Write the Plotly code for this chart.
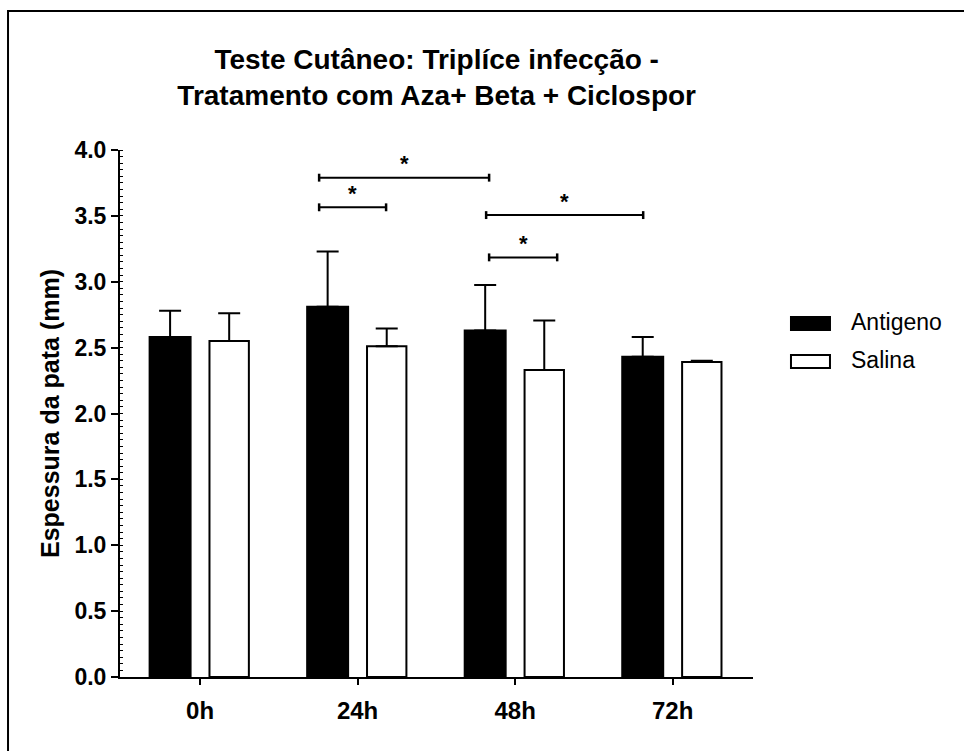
import plotly.graph_objects as go

categories = ["0h", "24h", "48h", "72h"]
antigeno_mean = [2.58, 2.81, 2.63, 2.43]
antigeno_err = [0.20, 0.42, 0.345, 0.15]
salina_mean = [2.55, 2.51, 2.33, 2.39]
salina_err = [0.21, 0.135, 0.375, 0.01]
series_names = ["Antigeno", "Salina"]
y_ticks = [0.0, 0.5, 1.0, 1.5, 2.0, 2.5, 3.0, 3.5, 4.0]

# significance brackets: (x start, x end, y level, label)
brackets = [
    (0.756, 1.835, 3.79, "*"),
    (0.756, 1.181, 3.565, "*"),
    (1.816, 2.813, 3.506, "*"),
    (1.835, 2.267, 3.185, "*"),
]

xpos = list(range(len(categories)))
FONT = "Liberation Sans, Arial, sans-serif"

fig = go.Figure()
fig.add_trace(go.Bar(
    x=xpos, y=antigeno_mean, name=series_names[0],
    offset=-0.32, width=0.26,
    marker=dict(color="black", line=dict(color="black", width=2)),
    error_y=dict(type="data", array=antigeno_err, arrayminus=[0]*4, symmetric=False,
                 color="black", thickness=2, width=11),
    showlegend=False,
))
fig.add_trace(go.Bar(
    x=xpos, y=salina_mean, name=series_names[1],
    offset=0.06, width=0.25,
    marker=dict(color="white", line=dict(color="black", width=2)),
    error_y=dict(type="data", array=salina_err, arrayminus=[0]*4, symmetric=False,
                 color="black", thickness=2, width=11),
    showlegend=False,
))

shapes = []
annotations = []
tick_h = 0.03
for x0, x1, yv, lab in brackets:
    shapes.append(dict(type="line", xref="x", yref="y", x0=x0, x1=x1, y0=yv, y1=yv,
                       line=dict(color="black", width=2)))
    for xe in (x0, x1):
        shapes.append(dict(type="line", xref="x", yref="y", x0=xe, x1=xe,
                           y0=yv - tick_h, y1=yv + tick_h, line=dict(color="black", width=2.5)))
    annotations.append(dict(x=(x0 + x1) / 2, y=yv, xref="x", yref="y", text="<b>*</b>",
                            showarrow=False, yshift=14, font=dict(size=22, color="black",
                            family=FONT)))

# outer frame
shapes.append(dict(type="rect", xref="paper", yref="paper", x0=-0.1769, x1=1.6,
                   y0=-0.3, y1=1.2638, line=dict(color="black", width=2), layer="below"))

# manual legend
leg_items = [(series_names[0], "black", 0.6584, 0.6831, 0.6736),
             (series_names[1], "white", 0.5863, 0.6110, 0.6015)]
for name, col, ya, yb, yt in leg_items:
    shapes.append(dict(type="rect", xref="paper", yref="paper", x0=1.060, x1=1.1216,
                       y0=ya, y1=yb, fillcolor=col, line=dict(color="black", width=2)))
    annotations.append(dict(x=1.1517, y=yt, xref="paper", yref="paper", text=name,
                            xanchor="left", yanchor="middle", showarrow=False,
                            font=dict(size=23, color="black", family=FONT)))

fig.update_layout(
    width=964, height=751,
    margin=dict(l=120, r=211, t=150, b=74),
    paper_bgcolor="white", plot_bgcolor="white",
    barmode="overlay",
    font=dict(family=FONT, color="black"),
    title=dict(text="<b>Teste Cutâneo: Triplíce infecção -<br>Tratamento com Aza+ Beta + Ciclospor</b>",
               x=0.453, xanchor="center", y=0.908, yanchor="middle",
               font=dict(size=28, color="black")),
    shapes=shapes, annotations=annotations,
)
fig.update_xaxes(range=[-0.508, 3.51], tickvals=xpos, ticktext=[f"<b>{c}</b>" for c in categories],
                 showline=True, linecolor="black", linewidth=2, ticks="outside", ticklen=6,
                 tickwidth=2, tickcolor="black", showgrid=False, zeroline=False,
                 ticklabelstandoff=5,
                 tickfont=dict(size=24, color="black"))
fig.update_yaxes(range=[0, 4.0], tickvals=y_ticks, ticktext=[f"<b>{v:.1f}</b>" for v in y_ticks],
                 showline=True, linecolor="black", linewidth=2, ticks="outside", ticklen=7,
                 tickwidth=2, tickcolor="black", showgrid=False, zeroline=False,
                 tickfont=dict(size=23, color="black"),
                 minor=dict(ticks="inside", ticklen=3, dtick=0.05, tickwidth=1, tickcolor="black"),
                 title=dict(text="<b>Espessura da pata (mm)</b>", font=dict(size=25, color="black"),
                            standoff=8))

fig.write_html("out.html")
